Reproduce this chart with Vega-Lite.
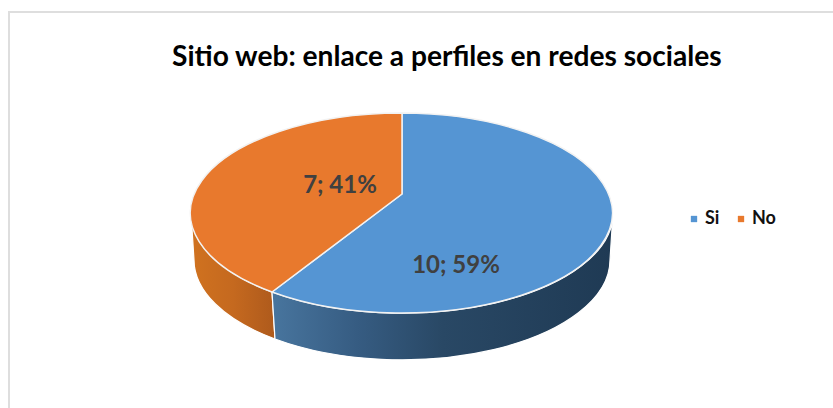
{
"$schema":"https://vega.github.io/schema/vega-lite/v6.json",
"width":850,"height":420,
"autosize":"none",
"padding":{"left":9,"top":12,"right":-26,"bottom":-24},
"background":"white",
"view":{"stroke":"#dedede","strokeWidth":2},
"title":{"text":"Sitio web: enlace a perfiles en redes sociales","anchor":"start","frame":"group","dx":163,"offset":-60,"font":"Lato","fontSize":28.15,"fontWeight":"bold","color":"#000000"},
"data":{"values":[
{"respuesta":"Si","n":10,"pct":59,"etiqueta":"10; 59%"},
{"respuesta":"No","n":7,"pct":41,"etiqueta":"7; 41%"}
]},
"layer":[
{"transform":[{"filter":"datum.respuesta==='No'"}],
 "mark":{"type":"point","filled":true,"opacity":1,"size":4,"xOffset":-32,"yOffset":-9,"shape":"M-211,0 A211,100 0 0 0 -130,79 L-127,126 A208,100 0 0 1 -208,47 Z","stroke":"#ffffff","strokeWidth":1.2,
  "color":{"x1":0,"y1":0,"x2":1,"y2":0,"gradient":"linear","stops":[{"offset":0,"color":"#d0721f"},{"offset":0.5,"color":"#c5691f"},{"offset":1,"color":"#ae5a1c"}]}},
 "encoding":{}},
{"transform":[{"filter":"datum.respuesta==='Si'"}],
 "mark":{"type":"point","filled":true,"opacity":1,"size":4,"xOffset":-32,"yOffset":-9,"shape":"M-130,79 A211,100 0 0 0 211,0 L208,47 A208,100 0 0 1 -127,126 Z","stroke":"#ffffff","strokeWidth":1.2,
  "color":{"x1":0,"y1":0,"x2":1,"y2":0,"gradient":"linear","stops":[{"offset":0,"color":"#48759e"},{"offset":0.25,"color":"#365c82"},{"offset":0.5,"color":"#294865"},{"offset":1,"color":"#1f3a54"}]}},
 "encoding":{}},
{"mark":{"type":"point","filled":true,"opacity":1,"size":4,"xOffset":-32,"yOffset":-9,"stroke":"#f2f2f2","strokeWidth":1.5},
 "encoding":{
  "color":{"field":"respuesta","type":"nominal","scale":{"domain":["Si","No"],"range":["#5595d3","#e8792d"]},
   "legend":{"title":null,"orient":"none","legendX":676,"legendY":198,"direction":"horizontal","symbolType":"square","symbolSize":40,"symbolOpacity":1,"symbolStrokeWidth":0,"labelFont":"Lato","labelFontSize":18,"labelFontWeight":"bold","labelColor":"#111111","columnPadding":12,"labelOffset":2}},
  "shape":{"field":"n","type":"nominal","legend":null,"scale":{"domain":[10,7],"range":["M0,-19 L0,-100 A211,100 0 1 1 -130,79 Z","M0,-19 L-130,79 A211,100 0 0 1 0,-100 Z"]}}
 }},
{"transform":[{"filter":"datum.respuesta==='Si'"}],
 "mark":{"type":"text","font":"Lato","fontSize":24,"fontWeight":"bold","color":"#404040","dx":22,"dy":44},
 "encoding":{"text":{"field":"etiqueta","type":"nominal"}}},
{"transform":[{"filter":"datum.respuesta==='No'"}],
 "mark":{"type":"text","font":"Lato","fontSize":24,"fontWeight":"bold","color":"#404040","dx":-94,"dy":-36},
 "encoding":{"text":{"field":"etiqueta","type":"nominal"}}}
]
}
